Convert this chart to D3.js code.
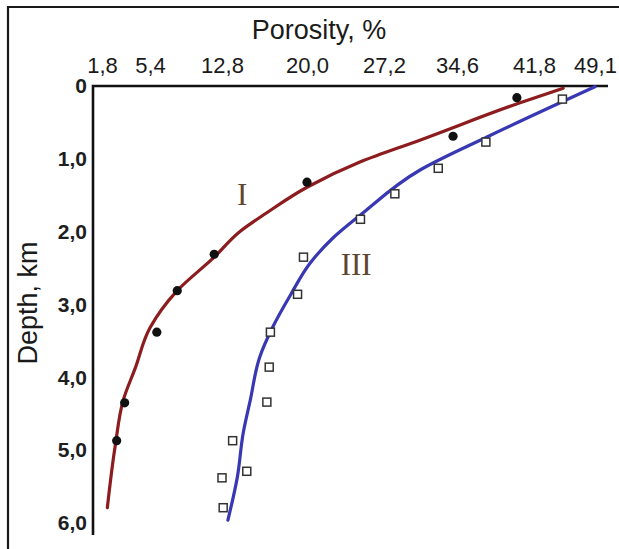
<!DOCTYPE html>
<html>
<head>
<meta charset="utf-8">
<script src="https://cdn.jsdelivr.net/npm/d3@7"></script>
<style>
  html, body { margin: 0; padding: 0; background: #fff; }
  svg { display: block; }
</style>
</head>
<body>
<script>
// Porosity ticks (top axis) and depth ticks (left axis)
const porosityTicks = [1.8, 5.4, 12.8, 20.0, 27.2, 34.6, 41.8, 49.1]
const depthTicks = [0, 1, 2, 3, 4, 5, 6]

// Curve I: fitted line and measured points (porosity %, depth km)
const curveIPorosity = [45.3, 40.5, 30.9, 25.0, 20.0, 16.6, 14.3, 12.0, 8.2, 5.4, 4.3, 3.4, 2.8, 2.2]
const curveIDepth = [0.03, 0.23, 0.74, 1.04, 1.39, 1.74, 2.0, 2.35, 2.81, 3.32, 3.87, 4.31, 4.93, 5.79]
const pointsIPorosity = [40.2, 34.2, 20.0, 12.0, 8.2, 6.1, 3.5, 2.9]
const pointsIDepth = [0.16, 0.69, 1.32, 2.31, 2.81, 3.38, 4.35, 4.87]

// Curve III: fitted line and measured points
const curveIIIPorosity = [49.1, 37.4, 30.9, 25.0, 22.4, 20.3, 18.6, 17.1, 16.0, 15.2, 14.6, 14.1, 13.3]
const curveIIIDepth = [0.01, 0.70, 1.15, 1.77, 2.09, 2.43, 2.87, 3.31, 3.72, 4.31, 4.76, 5.37, 5.96]
const pointsIIIPorosity = [45.2, 37.3, 32.7, 28.3, 25.0, 19.7, 19.2, 16.9, 16.8, 16.6, 13.7, 14.9, 12.8, 12.9]
const pointsIIIDepth = [0.18, 0.77, 1.13, 1.48, 1.83, 2.35, 2.86, 3.38, 3.86, 4.34, 4.87, 5.29, 5.38, 5.79]

const width = 619
const height = 549
const axisLeftX = 93
const axisTopY = 86
// where each porosity tick sits in the figure (the original axis is not evenly spaced)
const porosityTickPos = [102, 150, 222, 307, 384, 457, 534, 595]

const commaFormat = v => v === 0 ? '0' : d3.format('.1f')(v).replace('.', ',')

const x = d3.scaleLinear().domain(porosityTicks).range(porosityTickPos)
const y = d3.scaleLinear().domain([0, 6]).range([axisTopY, 523])

const svg = d3.select('body').append('svg')
  .attr('width', width)
  .attr('height', height)
  .attr('viewBox', [0, 0, width, height].join(' '))
  .style('font-family', '"Liberation Sans", Arial, sans-serif')

// Outer frame (top and left edges)
svg.append('path')
  .attr('d', `M8,${height} V7 H${width}`)
  .attr('fill', 'none')
  .attr('stroke', '#1a1a1a')
  .attr('stroke-width', 2.2)

// Axis lines
svg.append('path')
  .attr('d', `M${axisLeftX},535 V${axisTopY} H608`)
  .attr('fill', 'none')
  .attr('stroke', '#111')
  .attr('stroke-width', 2.6)

// Top axis labels
const xAxis = svg.append('g')
  .attr('transform', `translate(0, ${axisTopY})`)
  .call(d3.axisTop(x).tickValues(porosityTicks).tickSize(0).tickPadding(13).tickFormat(commaFormat))
xAxis.select('.domain').remove()
xAxis.selectAll('text')
  .attr('fill', '#1a1a1a')
  .style('font-size', '22px')
  .style('font-family', '"Liberation Sans", Arial, sans-serif')

// Left axis labels
const yAxis = svg.append('g')
  .attr('transform', `translate(${axisLeftX}, 0)`)
  .call(d3.axisLeft(y).tickValues(depthTicks).tickSize(0).tickPadding(6).tickFormat(commaFormat))
yAxis.select('.domain').remove()
yAxis.selectAll('text')
  .attr('fill', '#1e1e1e')
  .style('font-size', '21px')
  .style('font-weight', 'bold')
  .style('font-family', '"Liberation Sans", Arial, sans-serif')

// Axis titles
svg.append('text')
  .attr('x', 319)
  .attr('y', 39)
  .attr('text-anchor', 'middle')
  .attr('fill', '#1a1a1a')
  .style('font-size', '27px')
  .text('Porosity, %')

svg.append('text')
  .attr('transform', 'translate(37, 303) rotate(-90)')
  .attr('text-anchor', 'middle')
  .attr('fill', '#1a1a1a')
  .style('font-size', '27px')
  .text('Depth, km')

// Curves
const line = d3.line()
  .x(d => x(d[0]))
  .y(d => y(d[1]))
  .curve(d3.curveMonotoneY)

const curves = [
  { porosity: curveIPorosity, depth: curveIDepth, color: '#8c1c1e' },
  { porosity: curveIIIPorosity, depth: curveIIIDepth, color: '#3838b4' }
]

curves.forEach(c => {
  svg.append('path')
    .datum(d3.zip(c.porosity, c.depth))
    .attr('d', line)
    .attr('fill', 'none')
    .attr('stroke', c.color)
    .attr('stroke-width', 3.2)
    .attr('stroke-linecap', 'round')
})

// Measured points: curve I as black dots, curve III as open squares
svg.append('g')
  .selectAll('circle')
  .data(d3.zip(pointsIPorosity, pointsIDepth))
  .join('circle')
  .attr('cx', d => x(d[0]))
  .attr('cy', d => y(d[1]))
  .attr('r', 4.6)
  .attr('fill', '#111')

const sq = 8
svg.append('g')
  .selectAll('rect')
  .data(d3.zip(pointsIIIPorosity, pointsIIIDepth))
  .join('rect')
  .attr('x', d => x(d[0]) - sq / 2)
  .attr('y', d => y(d[1]) - sq / 2)
  .attr('width', sq)
  .attr('height', sq)
  .attr('fill', '#fff')
  .attr('stroke', '#333')
  .attr('stroke-width', 1.5)

// Curve labels
const curveLabels = [
  { text: 'I', porosity: 14.5, depth: 1.63 },
  { text: 'III', porosity: 24.6, depth: 2.6 }
]
svg.append('g')
  .selectAll('text')
  .data(curveLabels)
  .join('text')
  .attr('x', d => x(d.porosity))
  .attr('y', d => y(d.depth))
  .attr('text-anchor', 'middle')
  .attr('fill', '#5e4630')
  .style('font-family', '"Liberation Serif", "Times New Roman", serif')
  .style('font-size', '31px')
  .text(d => d.text)
</script>
</body>
</html>
